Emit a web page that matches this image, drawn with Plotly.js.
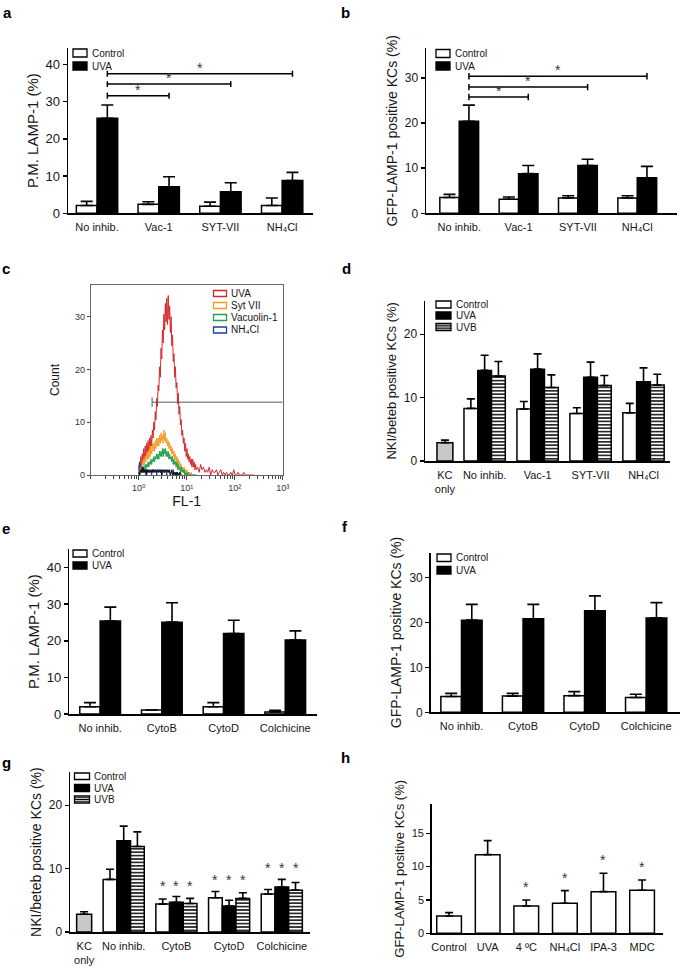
<!DOCTYPE html>
<html><head><meta charset="utf-8">
<script src="https://cdn.plot.ly/plotly-3.0.1.min.js"></script>
<style>html,body{margin:0;padding:0;background:#fff}#chart{width:685px;height:969px}</style>
</head><body><div id="chart"></div>
<script>
// ================= DATA =================
// Panel a : P.M. LAMP-1 (%)
const aCategories = ['No inhib.', 'Vac-1', 'SYT-VII', 'NH₄Cl'];
const aControl    = [2.1, 2.4, 1.9, 2.1];
const aControlErr = [1.1, 0.7, 1.1, 2.0];
const aUVA        = [25.5, 7.1, 5.8, 8.8];
const aUVAErr     = [3.6, 2.7, 2.4, 2.2];
const aSigPairs   = [[0, 1], [0, 2], [0, 3]];

// Panel b : GFP-LAMP-1 positive KCs (%)
const bCategories = ['No inhib.', 'Vac-1', 'SYT-VII', 'NH₄Cl'];
const bControl    = [3.5, 3.1, 3.4, 3.4];
const bControlErr = [0.7, 0.5, 0.5, 0.5];
const bUVA        = [20.4, 8.8, 10.6, 7.9];
const bUVAErr     = [3.6, 1.8, 1.4, 2.5];
const bSigPairs   = [[0, 1], [0, 2], [0, 3]];

// Panel c : flow cytometry histogram (log10 FL-1 channel vs count)
const cLogFL1 = [
  0.000,0.015,0.030,0.045,0.060,0.075,0.090,0.105,0.120,0.135,0.150,0.165,0.180,0.195,0.210,0.225,0.240,0.255,0.270,0.285,
  0.300,0.315,0.330,0.345,0.360,0.375,0.390,0.405,0.420,0.435,0.450,0.465,0.480,0.495,0.510,0.525,0.540,0.555,0.570,0.585,
  0.600,0.615,0.630,0.645,0.660,0.675,0.690,0.705,0.720,0.735,0.750,0.765,0.780,0.795,0.810,0.825,0.840,0.855,0.870,0.885,
  0.900,0.915,0.930,0.945,0.960,0.975,0.990,1.005,1.020,1.035,1.050,1.065,1.080,1.095,1.110,1.125,1.140,1.155,1.170,1.185,
  1.200,1.23,1.26,1.29,1.32,1.35,1.38,1.41,1.44,1.47,1.50,1.53,1.56,1.59,1.62,1.65,1.68,1.71,1.74,1.77,
  1.80,1.83,1.86,1.89,1.92,1.95,1.98,2.01,2.04,2.07,2.10,2.13,2.16,2.19,2.22,2.25,2.28,2.31,2.34,2.37,2.40];
const cUVA = [
  0.5,2,1,3.5,2,4,2.5,5,3,5.5,3.5,6,4,6.5,4.5,7,5,7.5,5.5,8.5,
  7,10,8.5,12,10.5,14.5,13,17,16,20.5,18.5,24,22,27.5,25,30.5,27.5,32.5,29,33.5,
  28.5,34,29.5,32,27,30,24.5,26.5,21.5,23,18.5,20.5,16.5,17.5,13.5,15.5,11.5,13,9.5,10.5,
  7.5,8.5,6,7,4.5,6,3.5,5,3,4,2.5,3.5,2,3,1.5,3,1.5,2.5,1,2,
  1,1.5,0.5,2,1,1.5,0.5,1,0.5,1.5,0,1,0.5,0.5,1,0,0.5,1,0,0.5,
  0,0.5,0,0,0.5,0,1,0,0,0.5,0,0,0,0.5,0,0,0,0,0,0,0];
const cSytVII = [
  0,1,0.5,2,1,2.5,1.5,3,2,3.5,2.5,4,3,4.5,3,5,3.5,5.5,4,6,
  4.5,6,4.5,6.5,5,7,5.5,7,5.5,7.5,6,8,6.5,7.5,6,8.5,6.5,8,6,7,
  5.5,6.5,5,6,4.5,5.5,4,5,3.5,4.5,3,4,2.5,3.5,2,3,1.5,2.5,1,2,
  1,1.5,0.5,1.5,0.5,1,0.5,1,0,0.5,0,0.5,0,0.5,0,0,0,0,0,0,0];
const cVacuolin1 = [
  0,0.5,0,1,0.5,1.5,0.5,1.5,1,2,1,2,1.5,2.5,1.5,2.5,2,3,2,3,
  2.5,3.5,2.5,3.5,3,4,3,4,3,4.5,3.5,4.5,3.5,5,3.5,5,4,5,3.5,4.5,
  3.5,4.5,3,4,3,3.5,2.5,3.5,2,3,2,2.5,1.5,2.5,1,2,1,1.5,0.5,1.5,
  0.5,1,0.5,1,0,0.5,0,0.5,0,0.5,0,0,0,0,0,0,0,0,0,0,0];
const cNH4Cl = [
  1,2.5,1.5,2,0.5,1.5,0.5,1,0.5,1,0,1,0.5,1,0.5,0.5,1,0.5,0,1,
  0.5,1,0.5,0.5,1,0,1,0.5,0.5,1,0.5,1,0,0.5,1,0.5,0.5,1,0.5,0,
  1,0.5,0.5,1,0,0.5,0.5,0,1,0,0.5,0,0.5,0,0.5,0,0,0.5,0,0];
const cUnstained = [
  0.5,0,1,0.5,1,0.5,1.5,0.5,1,0.5,1,0,1,0.5,1,0.5,0.5,1,0.5,1,
  0.5,1,0.5,1,0.5,0.5,1,0.5,1,0.5,0.5,1,0,1,0.5,0.5,1,0.5,0.5,1,
  0.5,0.5,1,0.5,0,0.5,1,0.5,0,0.5,0.5,0,0.5,0,0.5,0,0,0.5,0,0];
const cLegendLabels = ['UVA', 'Syt VII', 'Vacuolin-1', 'NH₄Cl'];
const cTickVals = [1, 10, 100, 1000];
const cTickText = ['10⁰', '10¹', '10²', '10³'];
const cGateFL1 = [1.9, 1000];
const cGateCount = 13.8;

// Panel d : NKI/beteb positive KCs (%)
const dCategories = ['KC<br>only', 'No inhib.', 'Vac-1', 'SYT-VII', 'NH₄Cl'];
const dKC         = [2.9];
const dKCErr      = [0.4];
const dControl    = [8.3, 8.2, 7.5, 7.6];
const dControlErr = [1.5, 1.2, 0.9, 1.5];
const dUVA        = [14.3, 14.5, 13.2, 12.5];
const dUVAErr     = [2.4, 2.4, 2.4, 2.2];
const dUVB        = [13.4, 11.6, 11.9, 12.0];
const dUVBErr     = [2.3, 2.0, 1.6, 1.7];

// Panel e : P.M. LAMP-1 (%)
const eCategories = ['No inhib.', 'CytoB', 'CytoD', 'Colchicine'];
const eControl    = [2.0, 1.1, 2.0, 0.55];
const eControlErr = [1.1, 0, 1.1, 0.45];
const eUVA        = [25.4, 25.1, 22.0, 20.2];
const eUVAErr     = [3.8, 5.3, 3.6, 2.5];

// Panel f : GFP-LAMP-1 positive KCs (%)
const fCategories = ['No inhib.', 'CytoB', 'CytoD', 'Colchicine'];
const fControl    = [3.5, 3.6, 3.7, 3.3];
const fControlErr = [0.7, 0.6, 0.9, 0.7];
const fUVA        = [20.5, 20.8, 22.6, 21.0];
const fUVAErr     = [3.5, 3.2, 3.3, 3.4];

// Panel g : NKI/beteb positive KCs (%)
const gCategories = ['KC<br>only', 'No inhib.', 'CytoB', 'CytoD', 'Colchicine'];
const gKC         = [2.8];
const gKCErr      = [0.4];
const gControl    = [8.3, 4.4, 5.4, 6.0];
const gControlErr = [1.6, 0.8, 1.0, 0.7];
const gUVA        = [14.4, 4.7, 4.1, 7.1];
const gUVAErr     = [2.3, 0.9, 0.9, 1.2];
const gUVB        = [13.5, 4.5, 5.3, 6.6];
const gUVBErr     = [2.3, 0.8, 0.9, 1.2];
const gSignificant = [false, true, true, true];

// Panel h : GFP-LAMP-1 positive KCs (%)
const hCategories = ['Control', 'UVA', '4 ºC', 'NH₄Cl', 'IPA-3', 'MDC'];
const hValues     = [2.6, 11.8, 4.1, 4.5, 6.25, 6.45];
const hErr        = [0.5, 2.1, 0.9, 1.9, 2.75, 1.55];
const hSignificant = [false, false, true, true, true, true];

// ================= LAYOUT HELPERS =================
const W = 685, H = 969;
const FONT = 'Liberation Sans, Arial, Helvetica, DejaVu Sans, sans-serif';
const TXT = '#161616';
const px2x = p => p / W;
const px2y = p => 1 - p / H;
const xdom = (l, r) => [l / W, r / W];
const ydom = (t, b) => [1 - b / H, 1 - t / H];

const traces = [];
const annotations = [];
const shapes = [];
const layout = {
  width: W, height: H, margin: {l: 0, r: 0, t: 0, b: 0},
  paper_bgcolor: '#fff', plot_bgcolor: 'rgba(0,0,0,0)',
  showlegend: false, barmode: 'overlay', font: {family: FONT, color: TXT},
  annotations, shapes
};
const sfx = n => (n === 1 ? '' : String(n));

function yAxis(n, dom, range, title, titleSize, tickSize, dtick, standoff) {
  layout['yaxis' + sfx(n)] = {
    domain: ydom(dom[0], dom[1]), range, anchor: 'x' + sfx(n),
    showline: true, linecolor: '#000', linewidth: 1.5,
    ticks: 'outside', ticklen: 4, tickwidth: 1.5, tickcolor: '#000',
    showgrid: false, zeroline: false, tick0: 0, dtick,
    tickfont: {family: FONT, size: tickSize, color: TXT},
    title: {text: title, font: {family: FONT, size: titleSize, color: TXT}, standoff}
  };
}
function xAxis(n, dom, range, tickvals, ticktext, tickSize) {
  layout['xaxis' + sfx(n)] = {
    domain: xdom(dom[0], dom[1]), range, anchor: 'y' + sfx(n),
    showline: true, linecolor: '#000', linewidth: 1.5, ticks: '',
    showgrid: false, zeroline: false, tickmode: 'array', tickvals, ticktext,
    ticklabelstandoff: 3,
    tickfont: {family: FONT, size: tickSize, color: TXT}
  };
}
function addBar(n, xs, ys, errs, fill, offset, width, hatch, capW) {
  const t = {
    type: 'bar', x: xs, y: ys, xaxis: 'x' + sfx(n), yaxis: 'y' + sfx(n),
    offset, width,
    marker: {color: fill, line: {color: '#000', width: 1.5}},
    error_y: {type: 'data', symmetric: false, array: errs, arrayminus: errs.map(() => 0),
              color: '#000', thickness: 1.6, width: capW},
    hoverinfo: 'skip', showlegend: false
  };
  if (hatch) t.marker.pattern = {shape: '-', bgcolor: '#fff', fgcolor: '#000', size: 3.4, solidity: 0.42};
  traces.push(t);
}
function legendLabel(textX, yMid, label) {
  annotations.push({xref: 'paper', yref: 'paper', x: px2x(textX), y: px2y(yMid),
    xanchor: 'left', yanchor: 'middle', text: label, showarrow: false,
    font: {family: FONT, size: 10, color: TXT}});
}
function legendBox(x, yTop, w, h, kind, label, textX) {
  const fill = kind === 'uva' ? '#000' : '#fff';
  shapes.push({type: 'rect', xref: 'paper', yref: 'paper', x0: px2x(x), x1: px2x(x + w),
               y0: px2y(yTop + h), y1: px2y(yTop), fillcolor: fill, line: {color: '#000', width: 1.3}});
  if (kind === 'uvb') {
    [0.25, 0.5, 0.75].forEach(f => shapes.push({type: 'line', xref: 'paper', yref: 'paper',
      x0: px2x(x), x1: px2x(x + w), y0: px2y(yTop + h * f), y1: px2y(yTop + h * f),
      line: {color: '#000', width: 1}}));
  }
  legendLabel(textX, yTop + h / 2, label);
}
function panelLabel(t, x, y) {
  annotations.push({xref: 'paper', yref: 'paper', x: px2x(x), y: px2y(y), xanchor: 'center', yanchor: 'middle',
    text: '<b>' + t + '</b>', showarrow: false, font: {family: FONT, size: 15, color: '#000'}});
}
function sigBrackets(n, pairs, barCenterOffset, levels, capH) {
  const xs = [], ys = [];
  pairs.forEach((p, i) => {
    const x1 = p[0] + barCenterOffset, x2 = p[1] + barCenterOffset, y = levels[i];
    xs.push(x1, x1, null, x1, x2, null, x2, x2, null);
    ys.push(y - capH, y + capH, null, y, y, null, y - capH, y + capH, null);
    annotations.push({xref: 'x' + sfx(n), yref: 'y' + sfx(n), x: (x1 + x2) / 2, y,
      yshift: 6, text: '*', showarrow: false, font: {family: FONT, size: 14, color: '#333'}});
  });
  traces.push({type: 'scatter', mode: 'lines', x: xs, y: ys, xaxis: 'x' + sfx(n),
    yaxis: 'y' + sfx(n), line: {color: '#000', width: 1.5}, hoverinfo: 'skip', showlegend: false});
}
function stars(n, xs, tops, flags, shift) {
  xs.forEach((x, i) => {
    if (!flags[i]) return;
    annotations.push({xref: 'x' + n, yref: 'y' + n, x, y: tops[i], yshift: shift, text: '*',
      showarrow: false, font: {family: FONT, size: 14, color: '#333'}});
  });
}
const idx = arr => arr.map((_, i) => i);

// ---------- Panel a ----------
{
  const pos = idx(aCategories), w = 0.335;
  xAxis(1, [68, 313], [-0.47, 3.5], pos, aCategories, 11);
  yAxis(1, [48, 213.3], [0, 44.4], 'P.M. LAMP-1 (%)', 15, 13, 10, 3);
  addBar(1, pos, aControl, aControlErr, '#fff', -w, w, false, 6);
  addBar(1, pos, aUVA, aUVAErr, '#000', 0, w, false, 6);
  sigBrackets(1, aSigPairs, w / 2, [31.6, 34.7, 37.5], 0.8);
  legendBox(73, 49, 14, 8, 'control', 'Control', 90);
  legendBox(73, 62, 14, 8, 'uva', 'UVA', 90);
  panelLabel('a', 7, 13);
}
// ---------- Panel b ----------
{
  const pos = idx(bCategories), w = 0.327;
  xAxis(2, [426, 677], [-0.56, 3.67], pos, bCategories, 11);
  yAxis(2, [48.3, 213.3], [0, 36.6], 'GFP-LAMP-1 positive KCs (%)', 14, 12, 10, 4);
  addBar(2, pos, bControl, bControlErr, '#fff', -w, w, false, 6);
  addBar(2, pos, bUVA, bUVAErr, '#000', 0, w, false, 6);
  sigBrackets(2, bSigPairs, w / 2, [25.8, 28.0, 30.4], 0.7);
  legendBox(436, 49.5, 14, 8, 'control', 'Control', 452.5);
  legendBox(436, 62, 14, 8, 'uva', 'UVA', 452.5);
  panelLabel('b', 345, 12);
}
// ---------- Panel c ----------
{
  const fl = cLogFL1.map(v => Math.pow(10, v));
  const series = [[cUVA, '#d42a2c'], [cSytVII, '#f49b25'], [cVacuolin1, '#22a04a'], [cNH4Cl, '#233f98'], [cUnstained, '#111']];
  series.forEach(s => traces.push({type: 'scatter', mode: 'lines', x: fl.slice(0, s[0].length), y: s[0],
    xaxis: 'x3', yaxis: 'y3', line: {color: s[1], width: 1}, hoverinfo: 'skip', showlegend: false}));
  traces.push({type: 'scatter', mode: 'lines', xaxis: 'x3', yaxis: 'y3',
    x: [cGateFL1[0], cGateFL1[0], null, cGateFL1[0], cGateFL1[1]],
    y: [cGateCount - 0.9, cGateCount + 0.9, null, cGateCount, cGateCount],
    line: {color: '#555', width: 1}, hoverinfo: 'skip', showlegend: false});
  layout.xaxis3 = {domain: xdom(90.7, 282.7), type: 'log', range: [-1, 3], anchor: 'y3',
    showline: true, mirror: true, linecolor: '#666', linewidth: 1, showgrid: false, zeroline: false,
    tickmode: 'array', tickvals: cTickVals, ticktext: cTickText,
    ticks: 'outside', ticklen: 4, tickwidth: 1, tickcolor: '#444',
    minor: {ticks: 'outside', ticklen: 2.5, tickwidth: 1, tickcolor: '#444', dtick: 'D1'},
    tickfont: {family: FONT, size: 9, color: '#333'},
    title: {text: 'FL-1', font: {family: FONT, size: 14, color: TXT}, standoff: 2}};
  layout.yaxis3 = {domain: ydom(285, 475), range: [0, 36], anchor: 'x3',
    showline: true, mirror: true, linecolor: '#666', linewidth: 1, showgrid: false, zeroline: false,
    tick0: 0, dtick: 10, ticks: 'outside', ticklen: 3, tickwidth: 1, tickcolor: '#444',
    tickfont: {family: FONT, size: 9, color: '#333'},
    title: {text: 'Count', font: {family: FONT, size: 12, color: TXT}, standoff: 12}};
  const colors = ['#d42a2c', '#f49b25', '#22a04a', '#233f98'];
  const rows = [290.5, 302.5, 314.5, 327];
  cLegendLabels.forEach((lab, i) => {
    shapes.push({type: 'rect', xref: 'paper', yref: 'paper', x0: px2x(213.5), x1: px2x(226.5),
      y0: px2y(rows[i] + 6), y1: px2y(rows[i]), fillcolor: '#fff', line: {color: colors[i], width: 1.3}});
    legendLabel(229, rows[i] + 3, lab);
  });
  panelLabel('c', 6, 268);
}
// ---------- Panel d ----------
{
  const pos = [0.25, 1, 2, 3, 4], gp = pos.slice(1), w = 0.26;
  xAxis(4, [425, 670], [-0.126, 4.5], pos, dCategories, 11);
  yAxis(4, [300.7, 461], [0, 25.3], 'NKI/beteb positive KCs (%)', 13, 12, 10, 4);
  addBar(4, [pos[0]], dKC, dKCErr, '#c8c8c8', -0.15, 0.3, false, 4);
  addBar(4, gp, dControl, dControlErr, '#fff', -1.5 * w, w, false, 4);
  addBar(4, gp, dUVA, dUVAErr, '#000', -0.5 * w, w, false, 4);
  addBar(4, gp, dUVB, dUVBErr, '#fff', 0.5 * w, w, true, 4);
  legendBox(436, 301, 15, 7, 'control', 'Control', 454);
  legendBox(436, 312, 15, 7, 'uva', 'UVA', 454);
  legendBox(436, 323.5, 15, 7, 'uvb', 'UVB', 454);
  panelLabel('d', 346, 268);
}
// ---------- Panel e ----------
{
  const pos = idx(eCategories), w = 0.33;
  xAxis(5, [69.3, 316.7], [-0.5, 3.51], pos, eCategories, 11);
  yAxis(5, [549.3, 714], [0, 45], 'P.M. LAMP-1 (%)', 15, 13, 10, 3);
  addBar(5, pos, eControl, eControlErr, '#fff', -w, w, false, 6);
  addBar(5, pos, eUVA, eUVAErr, '#000', 0, w, false, 6);
  legendBox(73, 550, 14, 7, 'control', 'Control', 90);
  legendBox(73, 562, 14, 7, 'uva', 'UVA', 90);
  panelLabel('e', 6, 528);
}
// ---------- Panel f ----------
{
  const pos = idx(fCategories), w = 0.335;
  xAxis(6, [430.7, 680], [-0.5, 3.55], pos, fCategories, 11);
  yAxis(6, [552.7, 712.3], [0, 35.5], 'GFP-LAMP-1 positive KCs (%)', 14, 12, 10, 4);
  addBar(6, pos, fControl, fControlErr, '#fff', -w, w, false, 6);
  addBar(6, pos, fUVA, fUVAErr, '#000', 0, w, false, 6);
  legendBox(437, 554, 14, 7.5, 'control', 'Control', 454);
  legendBox(437, 566.5, 14, 7.5, 'uva', 'UVA', 454);
  panelLabel('f', 345, 526);
}
// ---------- Panel g ----------
{
  const pos = [0.25, 1, 2, 3, 4], gp = pos.slice(1), w = 0.26;
  xAxis(7, [70, 310], [-0.019, 4.535], pos, gCategories, 11);
  yAxis(7, [772.3, 932], [0, 25.2], 'NKI/beteb positive KCs (%)', 14, 12, 10, 4);
  addBar(7, [pos[0]], gKC, gKCErr, '#c8c8c8', -0.143, 0.285, false, 4);
  addBar(7, gp, gControl, gControlErr, '#fff', -1.5 * w, w, false, 4);
  addBar(7, gp, gUVA, gUVAErr, '#000', -0.5 * w, w, false, 4);
  addBar(7, gp, gUVB, gUVBErr, '#fff', 0.5 * w, w, true, 4);
  const groupTop = gp.map((_, i) => Math.max(gControl[i] + gControlErr[i], gUVA[i] + gUVAErr[i], gUVB[i] + gUVBErr[i]));
  [-w, 0, w].forEach(off => stars(7, gp.map(p => p + off), groupTop, gSignificant, 11));
  legendBox(74.5, 773, 15, 6.5, 'control', 'Control', 92);
  legendBox(74.5, 784.5, 15, 7, 'uva', 'UVA', 92);
  legendBox(74.5, 796, 15, 7, 'uvb', 'UVB', 92);
  panelLabel('g', 6, 762);
}
// ---------- Panel h ----------
{
  const pos = idx(hCategories), w = 0.64;
  xAxis(8, [431.7, 663.3], [-0.45, 5.55], pos, hCategories, 11);
  yAxis(8, [804.3, 933.3], [0, 19.35], 'GFP-LAMP-1 positive KCs (%)', 13, 11, 5, 4);
  addBar(8, pos, hValues, hErr, '#fff', -w / 2, w, false, 4);
  stars(8, pos, hValues.map((v, i) => v + hErr[i]), hSignificant, 13);
  panelLabel('h', 345, 757);
}

Plotly.newPlot('chart', traces, layout, {staticPlot: true});
</script>
</body></html>
